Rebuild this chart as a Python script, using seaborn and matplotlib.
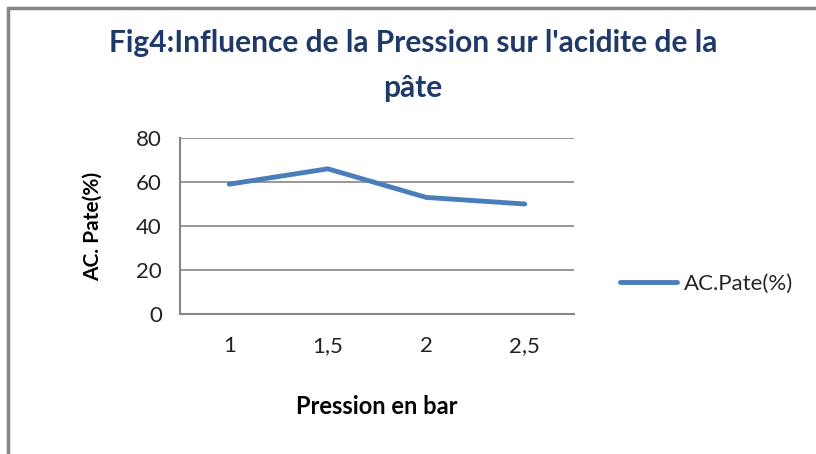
import matplotlib
matplotlib.use("Agg")
import matplotlib.pyplot as plt
import seaborn as sns
import pandas as pd
from matplotlib.patches import Rectangle

categories = ["1", "1,5", "2", "2,5"]
values = [59, 66, 53, 50]
series_name = "AC.Pate(%)"
y_ticks = [0, 20, 40, 60, 80]

sns.set_theme(style="white")
plt.rcParams['font.family'] = ['Lato', 'DejaVu Sans']

df = pd.DataFrame({"Pression": categories, "val": values, "serie": series_name})

W, H = 816, 454
fig = plt.figure(figsize=(W/100, H/100), dpi=100)
ax = fig.add_axes([180/W, 1-314/H, (574-180)/W, (314-138)/H])

sns.lineplot(data=df, x="Pression", y="val", hue="serie", palette=["#4a7ebb"],
             linewidth=3.5, ax=ax, sort=False)

ax.set_ylim(0, 80)
ax.set_xlim(-0.5, 3.5)
ax.set_yticks(y_ticks)
ax.set_yticklabels([str(t) for t in y_ticks], fontsize=16, color="#222222")
ax.set_xticks(range(len(categories)))
ax.set_xticklabels(categories, fontsize=16, color="#222222")
ax.set_xticks([i - 0.5 for i in range(len(categories) + 1)], minor=True)
ax.tick_params(axis="x", which="major", length=0, pad=16)
ax.tick_params(axis="x", which="minor", length=7, width=1.2, color="#868686", direction="out")
ax.tick_params(axis="y", which="major", length=7, width=1.2, color="#868686", direction="out", pad=6)
ax.grid(axis="y", color="#868686", linewidth=1.2)
ax.set_axisbelow(True)
for s in ["top", "right"]:
    ax.spines[s].set_visible(False)
for s in ["left", "bottom"]:
    ax.spines[s].set_color("#868686")
    ax.spines[s].set_linewidth(1.5)

ax.set_xlabel("Pression en bar", fontsize=17, fontweight="bold", labelpad=28, color="black")
ax.set_ylabel("AC. Pate(%)", fontsize=15, fontweight="bold", labelpad=24, color="black")

leg = ax.legend(loc="center left", bbox_to_anchor=(1.065, 0.17), frameon=False,
                fontsize=16, handlelength=2.6, handletextpad=0.3, title=None)

fig.text(0.506, 1-43/H, "Fig4:Influence de la Pression sur l'acidite de la",
         ha="center", va="center", fontsize=21.5, fontweight="bold", color="#1f3a68")
fig.text(0.506, 1-88/H, "pâte",
         ha="center", va="center", fontsize=21.5, fontweight="bold", color="#1f3a68")

fig.patches.append(Rectangle((8/W, -0.1), 1.2, 1-8/H+0.1, transform=fig.transFigure,
                             fill=False, edgecolor="#868686", linewidth=2.5))

fig.savefig("out.png", dpi=100, facecolor="white")
